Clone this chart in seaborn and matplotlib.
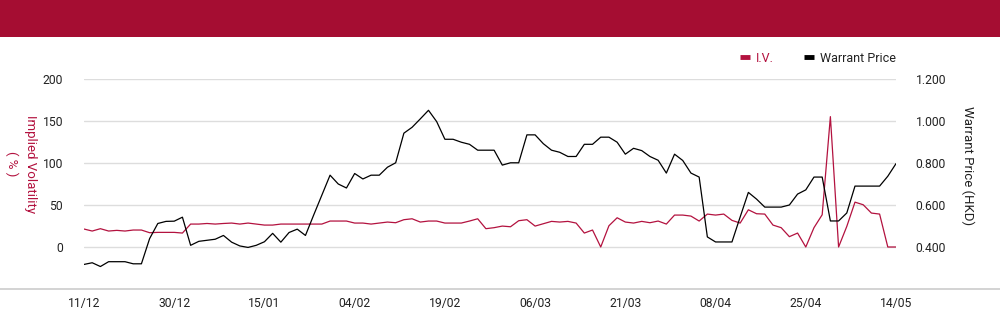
import numpy as np
import pandas as pd
import matplotlib
matplotlib.use("Agg")
import matplotlib.pyplot as plt
import seaborn as sns
from matplotlib.lines import Line2D
from matplotlib.patches import Rectangle

# ---------------- data ----------------
dates = [
    "11/12", "12/12", "13/12", "16/12", "17/12", "18/12", "19/12", "20/12", "23/12", "24/12",
    "27/12", "30/12", "31/12",
    "02/01", "03/01", "06/01", "07/01", "08/01", "09/01", "10/01", "13/01", "14/01", "15/01",
    "16/01", "17/01", "20/01", "21/01", "22/01", "23/01", "24/01", "27/01", "28/01",
    "03/02", "04/02", "05/02", "06/02", "07/02", "10/02", "11/02", "12/02", "13/02", "14/02",
    "17/02", "18/02", "19/02", "20/02", "21/02", "24/02", "25/02", "26/02", "27/02", "28/02",
    "03/03", "04/03", "05/03", "06/03", "07/03", "10/03", "11/03", "12/03", "13/03", "14/03",
    "17/03", "18/03", "19/03", "20/03", "21/03", "24/03", "25/03", "26/03", "27/03", "28/03",
    "31/03",
    "01/04", "02/04", "03/04", "07/04", "08/04", "09/04", "10/04", "11/04", "14/04", "15/04",
    "16/04", "17/04", "22/04", "23/04", "24/04", "25/04", "28/04", "29/04", "30/04",
    "02/05", "06/05", "07/05", "08/05", "09/05", "12/05", "13/05", "14/05",
]

iv = [
    21.4, 19.0, 21.8, 19.0, 19.8, 19.0, 20.2, 20.2, 17.0, 17.4,
    17.4, 17.4, 16.6, 27.3, 27.3, 28.0, 27.3, 28.0, 28.5, 27.3,
    28.5, 27.3, 26.1, 26.1, 27.3, 27.3, 27.3, 27.3, 27.3, 27.3,
    30.9, 30.9, 30.9, 28.5, 28.5, 27.3, 28.5, 29.7, 28.9, 32.5,
    33.6, 29.7, 30.9, 30.9, 28.5, 28.5, 28.5, 30.9, 33.6, 21.8,
    23.0, 24.9, 24.1, 31.3, 32.5, 24.9, 27.7, 30.5, 29.7, 30.5,
    28.5, 16.6, 20.2, 0.0, 25.3, 34.8, 29.7, 28.5, 30.5, 28.9,
    30.9, 27.3, 38.0, 38.0, 36.8, 30.9, 39.2, 38.0, 39.2, 31.7,
    28.5, 44.3, 39.6, 39.2, 26.1, 23.0, 12.3, 16.6, 0.0, 23.0,
    38.4, 155.2, 0.0, 24.5, 53.4, 50.3, 40.4, 39.2, 0.0, 0.0,
]

price = [
    0.317, 0.325, 0.307, 0.330, 0.330, 0.330, 0.320, 0.320, 0.440, 0.512,
    0.522, 0.523, 0.542, 0.408, 0.427, 0.432, 0.437, 0.455, 0.423, 0.405,
    0.398, 0.408, 0.425, 0.465, 0.423, 0.469, 0.485, 0.455, 0.552, 0.647,
    0.742, 0.700, 0.681, 0.750, 0.724, 0.742, 0.742, 0.780, 0.801, 0.942,
    0.970, 1.010, 1.051, 0.997, 0.913, 0.913, 0.899, 0.889, 0.861, 0.861,
    0.861, 0.790, 0.801, 0.801, 0.934, 0.934, 0.892, 0.861, 0.851, 0.831,
    0.831, 0.889, 0.889, 0.923, 0.923, 0.899, 0.842, 0.870, 0.859, 0.831,
    0.813, 0.752, 0.842, 0.812, 0.752, 0.733, 0.448, 0.424, 0.424, 0.424,
    0.543, 0.660, 0.628, 0.590, 0.590, 0.590, 0.600, 0.652, 0.672, 0.733,
    0.733, 0.524, 0.524, 0.562, 0.690, 0.690, 0.690, 0.690, 0.737, 0.797,
]

iv_ticks = [0, 50, 100, 150, 200]
price_ticks = [0.4, 0.6, 0.8, 1.0, 1.2]
tick_step = 11

RED = "#b3123f"
BANNER = "#a50d32"
GRID = "#dddddd"
TXT = "#222222"

# ---------------- plot ----------------
sns.set_theme(style="white")
plt.rcParams["font.family"] = ["Roboto", "DejaVu Sans"]

fig = plt.figure(figsize=(10, 3.24), dpi=100)
fig.patch.set_facecolor("white")

# top banner
fig.add_artist(Rectangle((0, 1 - 37 / 324), 1, 37 / 324, transform=fig.transFigure,
                         facecolor=BANNER, edgecolor="none", zorder=0))
# bottom rule across the full width
fig.add_artist(Line2D([0, 1], [1 - 289 / 324] * 2, transform=fig.transFigure,
                      color="#cccccc", lw=1.2))

ax = fig.add_axes([0.084, 1 - 289 / 324, 0.812, 210 / 324])
df = pd.DataFrame({"pos": np.arange(len(dates)), "date": dates, "iv": iv, "price": price})

sns.lineplot(data=df, x="pos", y="iv", ax=ax, color=RED, lw=0.9, legend=False)
ax2 = ax.twinx()
sns.lineplot(data=df, x="pos", y="price", ax=ax2, color="black", lw=0.9, legend=False)

ax.set_xlim(0, len(dates) - 1)
ax.set_ylim(-50, 200)
ax.set_yticks(iv_ticks)
ax.set_yticklabels([str(t) for t in iv_ticks])
ax2.set_ylim(0.2, 1.2)
ax2.set_yticks(price_ticks)
ax2.set_yticklabels([f"{t:.3f}" for t in price_ticks])

pos = list(range(0, len(dates), tick_step))
ax.set_xticks(pos)
ax.set_xticklabels([dates[p] for p in pos])

ax.grid(axis="y", color=GRID, lw=1)
ax.grid(axis="x", visible=False)
ax2.grid(False)
for a in (ax, ax2):
    for s in a.spines.values():
        s.set_visible(False)
    a.set_xlabel("")
    a.set_ylabel("")

ax.tick_params(axis="y", length=0, pad=15, labelsize=8.7, labelcolor=TXT)
ax.tick_params(axis="x", length=0, pad=6, labelsize=8.7, labelcolor=TXT)
ax2.tick_params(axis="y", length=0, pad=14, labelsize=8.7, labelcolor=TXT)

# axis titles
fig.text(0.021, 1 - 164 / 324, "Implied Volatility\n( % )", rotation=-90,
         ha="center", va="center", ma="center", color=RED, fontsize=9.5, linespacing=1.5)
fig.text(0.968, 1 - 166 / 324, "Warrant Price (HKD)", rotation=-90,
         ha="center", va="center", color=TXT, fontsize=9.5)

# legend
handles = [Line2D([], [], color=RED, lw=3.5, solid_capstyle="butt"),
           Line2D([], [], color="black", lw=3.5, solid_capstyle="butt")]
leg = fig.legend(handles, ["I.V.", "Warrant Price"], loc="center right",
                 bbox_to_anchor=(0.896, 1 - 58 / 324), ncol=2, frameon=False,
                 fontsize=9, handlelength=0.8, handletextpad=0.5, columnspacing=2.4,
                 borderaxespad=0, borderpad=0)
leg.get_texts()[0].set_color(RED)
leg.get_texts()[1].set_color(TXT)

fig.savefig("out.png", dpi=100, facecolor="white")
